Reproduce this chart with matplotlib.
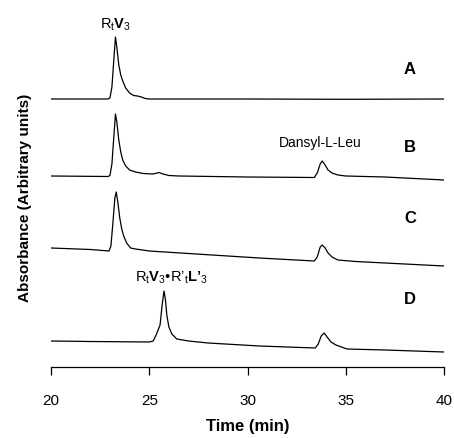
import matplotlib
matplotlib.use("Agg")
import matplotlib.pyplot as plt

plt.rcParams["font.family"] = ["Liberation Sans", "DejaVu Sans"]
plt.rcParams["mathtext.fontset"] = "custom"
plt.rcParams["mathtext.rm"] = "Liberation Sans"
plt.rcParams["mathtext.bf"] = "Liberation Sans:bold"
plt.rcParams["mathtext.it"] = "Liberation Sans:italic"

# chromatogram traces: time (min) and signal (arbitrary units)
time_a = [20.0, 22.9, 23.0, 23.1, 23.2, 23.28, 23.35, 23.45, 23.55, 23.65, 23.8, 24.0,
          24.2, 24.4, 24.6, 24.8, 25.0, 30.0, 35.0, 40.0]
sig_a = [0, 0, 1, 12, 40, 62, 52, 34, 24, 18, 11, 6, 3.5, 3, 2, 0.5, 0, 0, -0.3, 0]

time_b = [20.0, 22.9, 23.0, 23.1, 23.2, 23.28, 23.35, 23.45, 23.55, 23.65, 23.8, 24.0,
          24.3, 24.7, 25.2, 25.5, 25.7, 26.0, 26.5, 30.0, 33.4, 33.55, 33.7, 33.8,
          33.95, 34.1, 34.3, 34.6, 35.0, 37.0, 40.0]
sig_b = [0, -0.5, 0.5, 12, 40, 62, 54, 36, 24, 16, 10, 6, 4, 2.5, 2, 3.5, 2, 0.5, 0,
         -1, -1.5, 3, 12, 15, 11, 6, 3, 1, 0, -1, -4]

time_c = [20.0, 22.0, 22.95, 23.05, 23.15, 23.25, 23.32, 23.4, 23.5, 23.6, 23.7, 23.85,
          24.05, 24.3, 25.0, 27.0, 30.6, 33.4, 33.55, 33.7, 33.8, 33.95, 34.1, 34.3,
          34.6, 35.5, 40.0]
sig_c = [0, -1.5, -3, 2, 25, 50, 56, 46, 30, 19, 12, 5, 0, -1, -3, -5.5, -10, -13, -9,
         1, 3, 0, -5, -9, -12, -13.5, -18]

time_d = [20.0, 22.0, 25.0, 25.2, 25.35, 25.45, 25.55, 25.65, 25.75, 25.82, 25.9, 26.0,
          26.15, 26.4, 27.0, 28.0, 30.6, 33.45, 33.6, 33.75, 33.9, 34.05, 34.25, 34.5,
          35.06, 37.0, 40.0]
sig_d = [0, -0.5, -1, 0, 6, 11, 16, 35, 50, 42, 25, 14, 7, 2, 0, -2, -5, -7, -3, 5, 8,
         4, -1, -4, -8, -9, -11]

trace_names = ["A", "B", "C", "D"]
offsets = [268, 191, 119, 26]
ticks = [20, 25, 30, 35, 40]

fig = plt.figure(figsize=(4.54, 4.39), dpi=100)
ax = fig.add_axes([51 / 454, 71 / 439, 393 / 454, 368 / 439])

traces = [(time_a, sig_a), (time_b, sig_b), (time_c, sig_c), (time_d, sig_d)]
for (t, s), off, name in zip(traces, offsets, trace_names):
    ax.plot(t, [v + off for v in s], color="black", lw=0.9)
    ax.text(38.27, off + 30 if name != "D" else off + 42, name, fontsize=12,
            fontweight="bold", ha="center", va="center")

ax.text(23.3, 343, r"$\mathrm{R_t}\mathbf{V}_3$", fontsize=10.5, ha="center", va="center")
ax.text(33.7, 225, "Dansyl-L-Leu", fontsize=10, ha="center", va="center")
ax.text(26.1, 90, "$\\mathrm{R_t}\\mathbf{V}_3$•$\\mathrm{R\u2019_t}\\mathbf{L\u2019}_3$",
        fontsize=10.5, ha="center", va="center")

ax.set_xlim(20, 40)
ax.set_ylim(0, 368)
ax.set_xticks(ticks)
ax.set_yticks([])
for side in ["left", "right", "top"]:
    ax.spines[side].set_visible(False)
ax.spines["bottom"].set_linewidth(0.9)
ax.tick_params(axis="x", direction="out", length=6, width=0.9, pad=13, labelsize=11)
ax.set_xlabel("Time (min)", fontsize=12, fontweight="bold", labelpad=8)
fig.text(25 / 454, (439 - 198) / 439, "Absorbance (Arbitrary units)", rotation=90,
         fontsize=11, fontweight="bold", ha="center", va="center")

fig.savefig("out.png", dpi=100)
